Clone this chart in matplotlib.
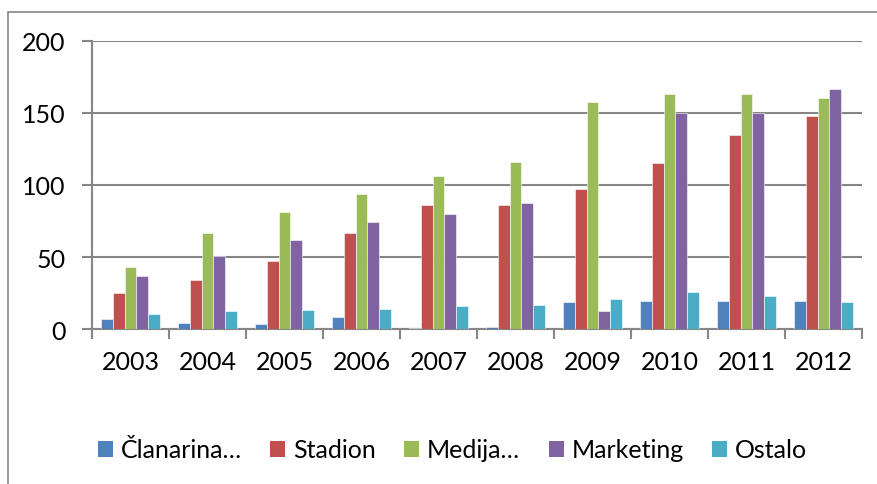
import matplotlib
matplotlib.use("Agg")
import matplotlib.pyplot as plt
import numpy as np
from matplotlib.patches import Rectangle, Patch

years = ["2003", "2004", "2005", "2006", "2007", "2008", "2009", "2010", "2011", "2012"]
series_names = ["Članarina…", "Stadion", "Medija…", "Marketing", "Ostalo"]
clanarina = [7, 4, 3.5, 8, 1, 1.5, 18.5, 19.5, 19.5, 19.5]
stadion = [25, 34, 47.5, 67, 86, 86, 97, 115, 135, 148]
medija = [43, 67, 81, 94, 106.5, 116, 157.5, 163, 163, 160.5]
marketing = [37, 50.5, 61.5, 74.5, 80, 87.5, 12.5, 150, 150, 167]
ostalo = [10.5, 12.5, 13, 14, 16, 17, 21, 26, 23, 19]
values = [clanarina, stadion, medija, marketing, ostalo]
colors = ["#4F81BD", "#C0504D", "#9BBB59", "#8064A2", "#4BACC6"]

plt.rcParams['font.family'] = ['Lato', 'DejaVu Sans']
fs = 18
gray = "#868686"

fig = plt.figure(figsize=(8.77, 4.85), dpi=100)
fig.patches.append(Rectangle((8/877, -0.2), 1.2, 0.2 + 1 - 13/485, transform=fig.transFigure,
                             fill=False, edgecolor=gray, linewidth=1.2))
ax = fig.add_axes([92/877, 1 - 330/485, 770/877, 288/485])

n = len(years)
x = np.arange(n)
bw = 1 / 6.5
for i, (vals, c) in enumerate(zip(values, colors)):
    ax.bar(x + (i - 2) * bw, vals, width=bw, color=c, edgecolor="white", linewidth=0.4,
           label=series_names[i], zorder=3)

ax.set_xlim(-0.5, n - 0.5)
ax.set_ylim(0, 200)
ax.set_yticks([0, 50, 100, 150, 200])
ax.yaxis.grid(True, color=gray, linewidth=1.5, zorder=0)
ax.set_axisbelow(True)
ax.set_xticks(x)
ax.set_xticklabels(years, fontsize=fs)
ax.set_xticks(np.arange(-0.5, n, 1), minor=True)
ax.tick_params(axis='x', which='major', length=0, pad=15)
ax.tick_params(axis='x', which='minor', length=7, color=gray, width=1.5, direction='out')
ax.tick_params(axis='y', length=7, color=gray, width=1.5, labelsize=fs, pad=12)
for s in ['top', 'right']:
    ax.spines[s].set_visible(False)
for s in ['left', 'bottom']:
    ax.spines[s].set_color(gray)
    ax.spines[s].set_linewidth(1.5)

handles = [Patch(facecolor=c, edgecolor='none') for c in colors]
fig.legend(handles, series_names, loc='center', bbox_to_anchor=(0.516, 1 - 451/485), ncol=5,
           frameon=False, fontsize=fs, handlelength=0.6, handleheight=0.6, handletextpad=0.3,
           columnspacing=1.15)

fig.savefig("out.png", dpi=100)
